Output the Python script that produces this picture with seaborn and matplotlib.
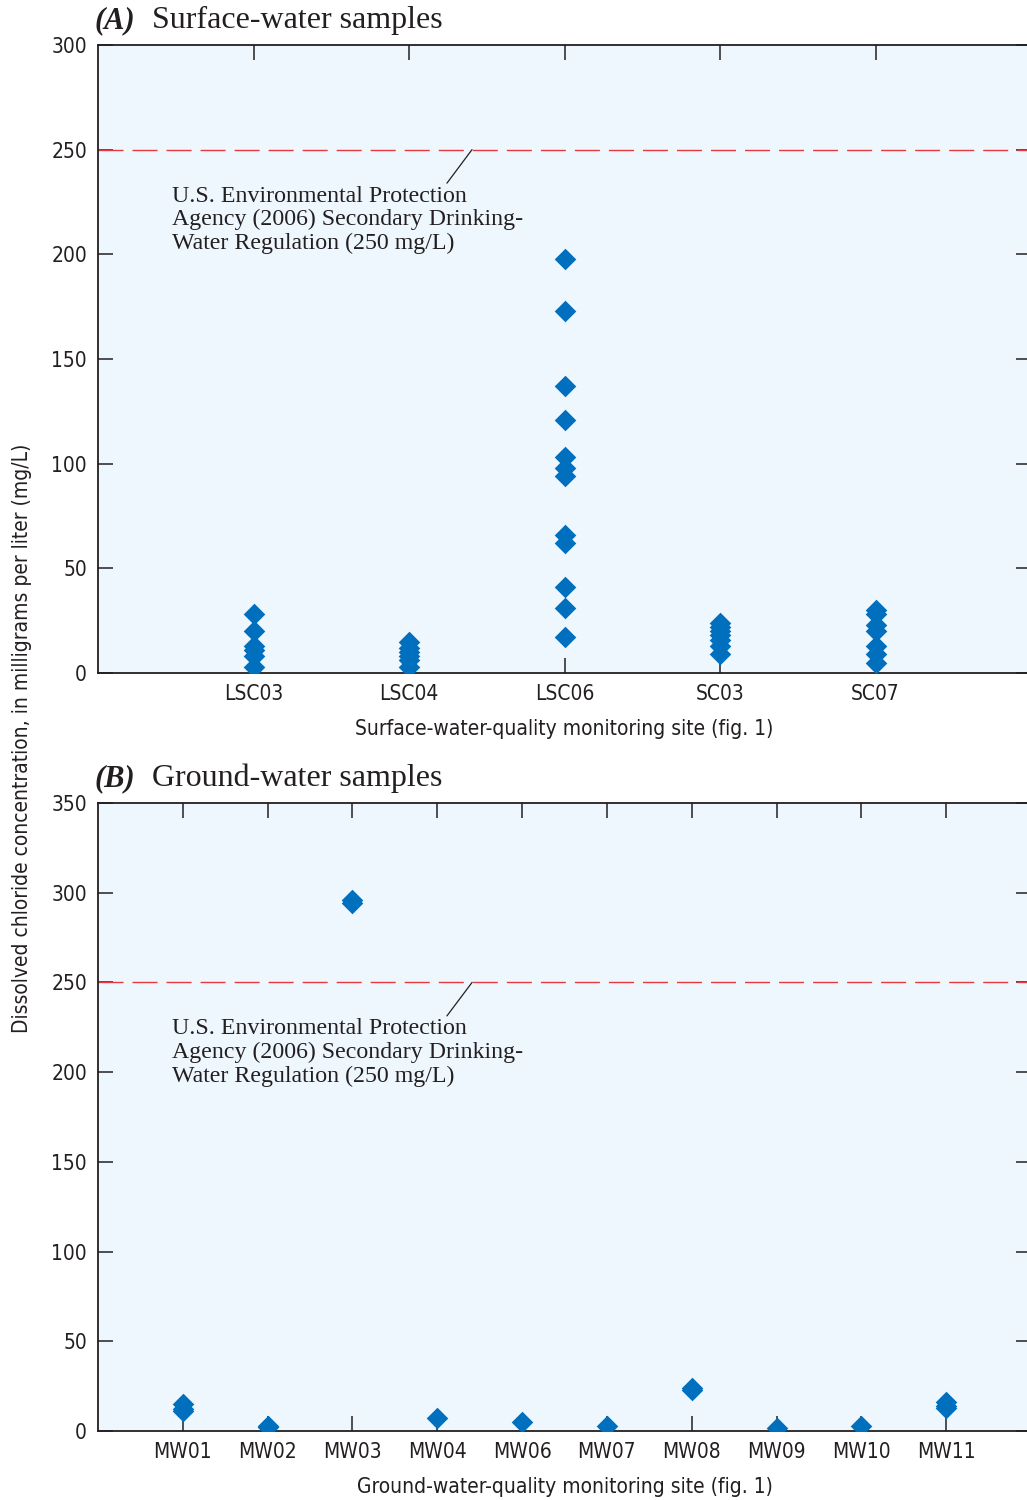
import matplotlib
matplotlib.use("Agg")
import matplotlib.pyplot as plt
import seaborn as sns
import pandas as pd
from matplotlib import font_manager as fm

# ---- data ----
surface_sites = ["LSC03", "LSC04", "LSC06", "SC03", "SC07"]
LSC03 = [28, 20, 13, 11, 8, 3]
LSC04 = [15, 12, 10, 8, 6, 3]
LSC06 = [198, 173, 137, 121, 103, 98, 94, 66, 62, 41, 31, 17]
SC03 = [24, 22, 20, 18, 16, 13, 9]
SC07 = [30, 28, 23, 20, 13, 9, 5]

ground_sites = ["MW01", "MW02", "MW03", "MW04", "MW06", "MW07", "MW08", "MW09", "MW10", "MW11"]
MW01 = [15, 12, 11]
MW02 = [3, 2]
MW03 = [296, 294]
MW04 = [7]
MW06 = [5]
MW07 = [3]
MW08 = [24, 23]
MW09 = [1.5]
MW10 = [3]
MW11 = [16, 14, 13]

surface_yticks = [0, 50, 100, 150, 200, 250, 300]
ground_yticks = [0, 50, 100, 150, 200, 250, 300, 350]
epa_limit = 250
note = "U.S. Environmental Protection\nAgency (2006) Secondary Drinking-\nWater Regulation (250 mg/L)"

surface_vals = [LSC03, LSC04, LSC06, SC03, SC07]
ground_vals = [MW01, MW02, MW03, MW04, MW06, MW07, MW08, MW09, MW10, MW11]
df_s = pd.DataFrame([(s, v) for s, vs in zip(surface_sites, surface_vals) for v in vs], columns=["site", "value"])
df_g = pd.DataFrame([(s, v) for s, vs in zip(ground_sites, ground_vals) for v in vs], columns=["site", "value"])

# ---- style ----
sns.set_style("ticks")
names = {f.name for f in fm.fontManager.ttflist}
if "Liberation Sans Narrow" in names:
    SANS = ["Liberation Sans Narrow", "DejaVu Sans"]
    STRETCH = "normal"
else:
    SANS = ["DejaVu Sans"]
    STRETCH = "condensed"
SERIF = ["Liberation Serif", "DejaVu Serif"]
plt.rcParams["font.family"] = SANS
plt.rcParams["font.stretch"] = STRETCH
TXT = "#231F20"
BG = "#EEF7FE"
BLUE = "#0070BE"
RED = "#E8383D"

W, H = 1027, 1500
fig = plt.figure(figsize=(W / 100, H / 100), dpi=100)

def px_axes(x0, x1, ytop, ybot):
    return fig.add_axes([x0 / W, 1 - ybot / H, (x1 - x0) / W, (ybot - ytop) / H])

axA = px_axes(98, 1031, 45, 673)
axB = px_axes(98, 1031, 803, 1431)

def style(ax, df, sites, yticks, xlabel, title_letter, title_text, text_y, xy_x, line_y):
    ax.set_facecolor(BG)
    sns.stripplot(data=df, x="site", y="value", order=sites, jitter=False, marker="D",
                  size=11, color=BLUE, linewidth=0, ax=ax, zorder=3)
    n = len(sites)
    ax.set_xlim(-1, n)
    ax.set_ylim(yticks[0], yticks[-1])
    ax.set_yticks(yticks)
    ax.set_xticks(range(n))
    ax.set_xticklabels(sites)
    ax.axhline(epa_limit, color=RED, lw=1.0, dashes=(18, 6.5), zorder=2)
    for sp in ax.spines.values():
        sp.set_linewidth(1.3)
        sp.set_color(TXT)
    ax.tick_params(axis="both", which="major", direction="in", length=11, width=1.1,
                   top=True, right=True, color=TXT, labelcolor=TXT, labelsize=15, pad=8)
    ax.set_xlabel(xlabel, fontsize=15, color=TXT, labelpad=11)
    ax.set_ylabel("")
    ax.annotate(note, xy=(xy_x, epa_limit), xycoords="data",
                xytext=(0.0797, text_y), textcoords="axes fraction",
                ha="left", va="top", fontsize=17.2, family=SERIF, stretch="normal",
                color=TXT, linespacing=1.15, annotation_clip=False)
    ax.annotate("", xy=(xy_x, epa_limit), xycoords="data",
                xytext=(0.374, line_y), textcoords="axes fraction",
                arrowprops=dict(arrowstyle="-", color=TXT, lw=0.9, shrinkA=0, shrinkB=0))
    bb = ax.get_position()
    fig.text(95 / W, bb.y1 + 17 / H, title_letter, fontsize=22, family=SERIF, stretch="normal",
             fontweight="bold", fontstyle="italic", color=TXT, va="baseline")
    fig.text(152 / W, bb.y1 + 17 / H, title_text, fontsize=23, family=SERIF, stretch="normal",
             color=TXT, va="baseline")

style(axA, df_s, surface_sites, surface_yticks,
      "Surface-water-quality monitoring site (fig. 1)", "(A)", "Surface-water samples",
      0.776, 1.405, 0.780)
style(axB, df_g, ground_sites, ground_yticks,
      "Ground-water-quality monitoring site (fig. 1)", "(B)", "Ground-water samples",
      0.657, 3.41, 0.661)

fig.text(22 / W, 1 - 738 / H, "Dissolved chloride concentration, in milligrams per liter (mg/L)",
         rotation=90, ha="center", va="center", fontsize=15, color=TXT)

fig.savefig("out.png", dpi=100, facecolor="white")
